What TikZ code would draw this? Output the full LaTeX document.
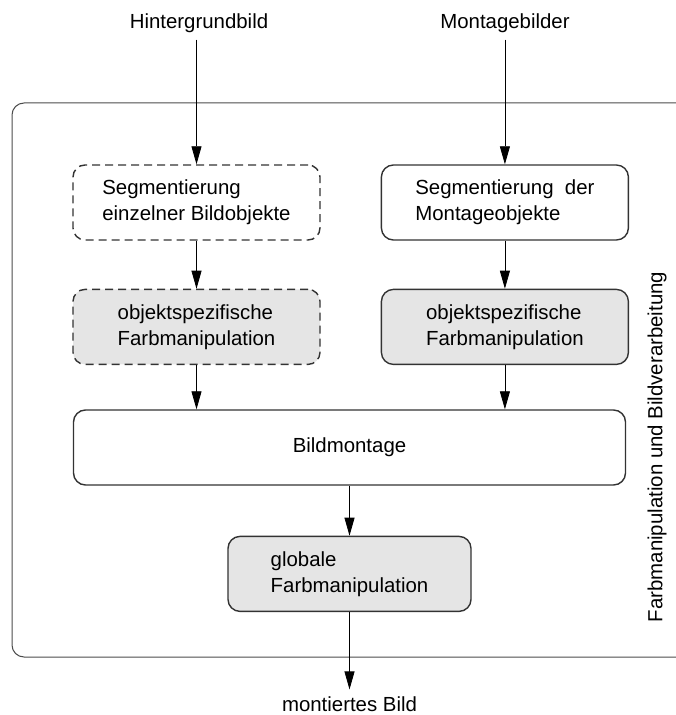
\documentclass[tikz,border=0pt]{standalone}
\usepackage{fontspec}
\setmainfont{Liberation Sans}
\usetikzlibrary{arrows.meta,positioning}

\begin{document}
\begin{tikzpicture}[x=0.5pt,y=-0.5pt,->,>={Triangle[length=9pt,width=5pt]},
                    font=\fontsize{10.2}{13}\selectfont,
                    box/.style={draw=black!80,line width=0.7pt,rounded corners=6pt,
                                minimum width=123.5pt,minimum height=37.5pt,align=left},
                    dashbox/.style={box,dash pattern=on 4pt off 2.5pt},
                    shaded/.style={fill=black!10},
                    node distance=24pt]
	\useasboundingbox (0,0) rectangle (675,715);
	% Rahmen
	\draw[-,black!70,line width=0.5pt,rounded corners=6pt]
		(690,103) -- (12,103) -- (12,657) -- (690,657);
	\node[rotate=90]		(lbl)	at (657,447)	{Farbmanipulation und Bildverarbeitung};
	\node				(hin)	at (199,23)	{Hintergrundbild};
	\node				(mon)	at (505,23)	{Montagebilder};
	\node[dashbox]			(segA)	at (196.5,202.5)	{Segmentierung\\einzelner Bildobjekte};
	\node[box]			(segB)	[right=30pt of segA]	{Segmentierung\ \ der\\Montageobjekte};
	\node[dashbox,shaded]		(farbA)	[below=of segA]	{objektspezifische\\Farbmanipulation};
	\node[box,shaded]		(farbB)	[below=of segB]	{objektspezifische\\Farbmanipulation};
	\node[box,minimum width=276pt]	(mont)	at (349.5,447.5)	{Bildmontage};
	\node[box,shaded,minimum width=121.5pt]	(glob)	[below=25pt of mont]	{globale\\Farbmanipulation};
	\node				(out)	at (349.5,704)	{montiertes Bild};
	\draw	(hin.south -| segA.north) -- (segA.north);
	\draw	(mon.south -| segB.north) -- (segB.north);
	\draw	(segA) -- (farbA);
	\draw	(segB) -- (farbB);
	\draw	(farbA.south) -- (farbA.south |- mont.north);
	\draw	(farbB.south) -- (farbB.south |- mont.north);
	\draw	(mont) -- (glob);
	\draw	(glob) -- (out);
\end{tikzpicture}
\end{document}
